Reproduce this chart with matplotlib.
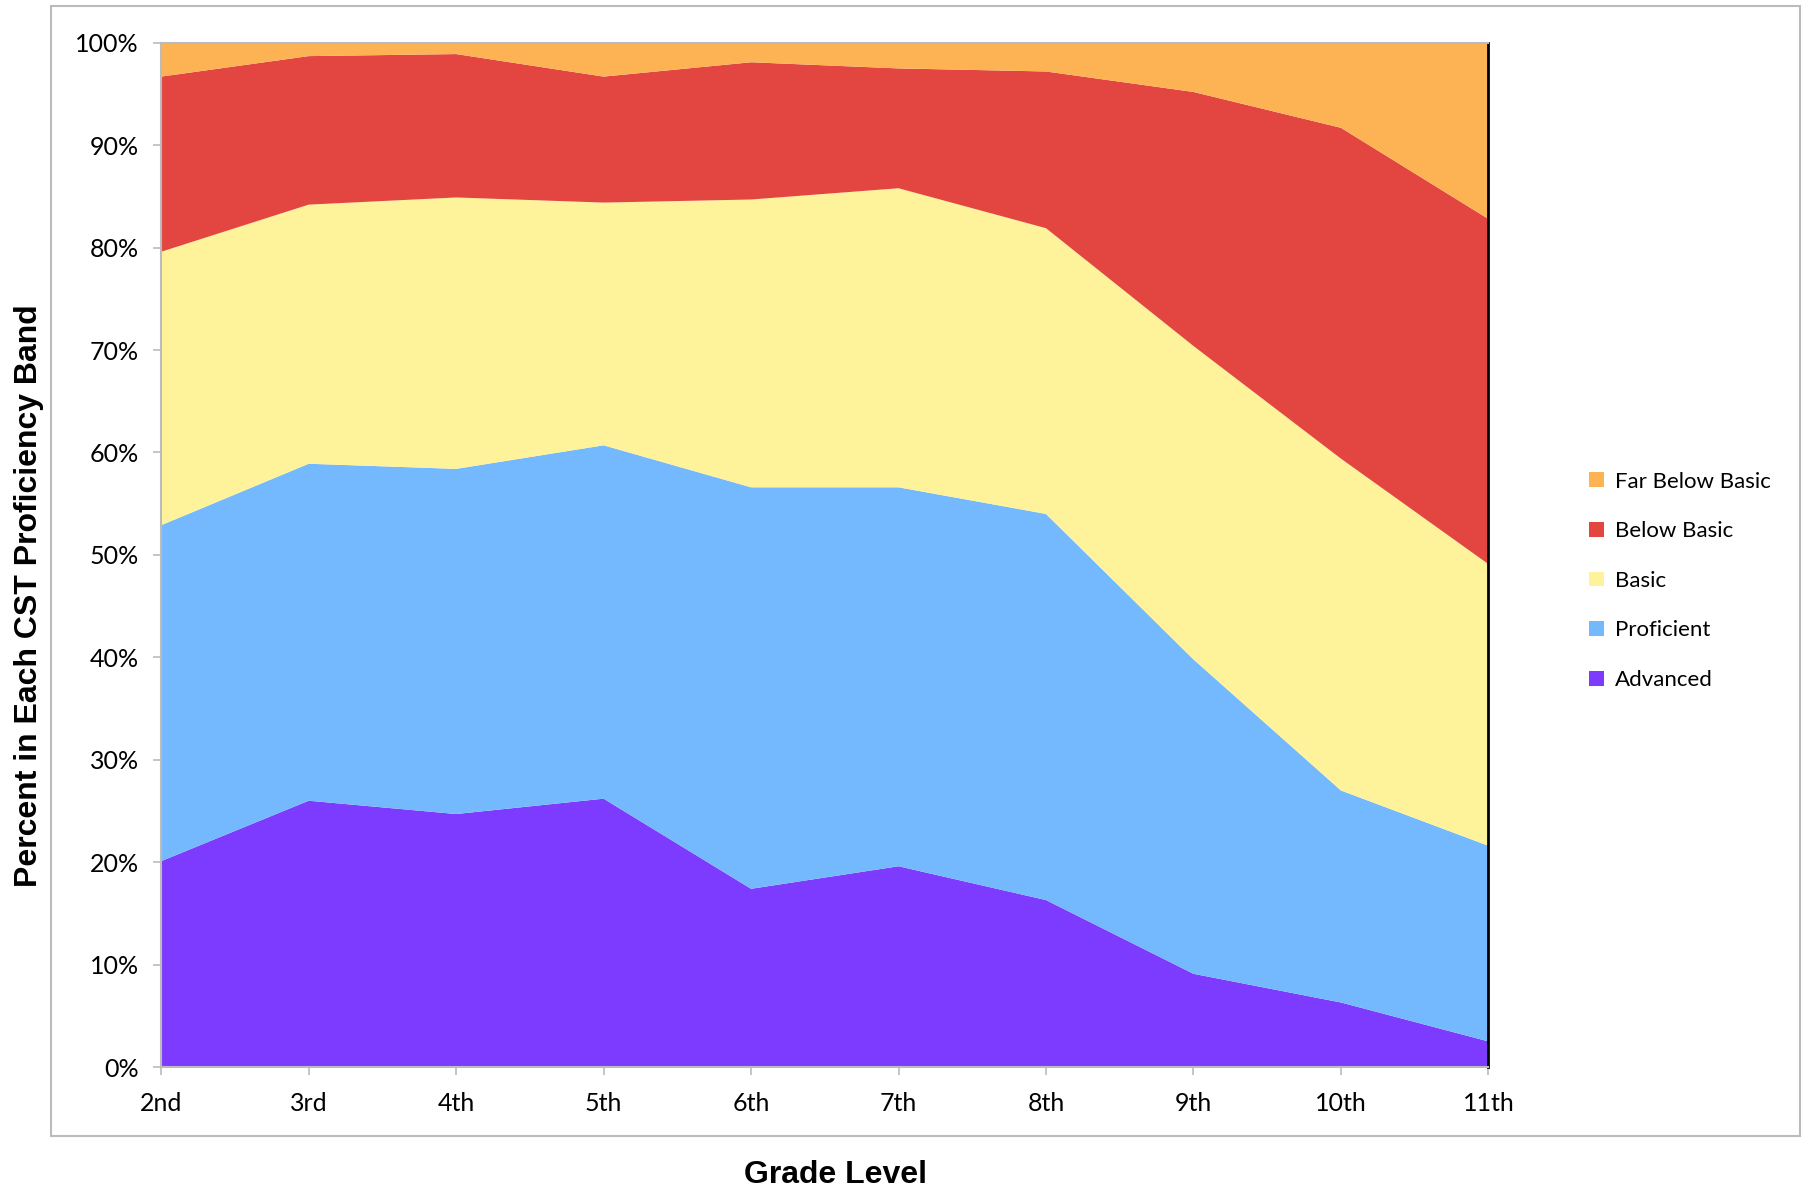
import matplotlib
matplotlib.use("Agg")
import matplotlib.pyplot as plt
from matplotlib.patches import Rectangle, Patch
from matplotlib.ticker import FuncFormatter, MultipleLocator
import numpy as np

grades = ["2nd", "3rd", "4th", "5th", "6th", "7th", "8th", "9th", "10th", "11th"]
advanced = [20.1, 26.0, 24.7, 26.2, 17.4, 19.6, 16.3, 9.1, 6.3, 2.5]
proficient = [32.8, 32.9, 33.7, 34.5, 39.2, 37.0, 37.7, 30.7, 20.7, 19.1]
basic = [26.7, 25.3, 26.5, 23.7, 28.1, 29.2, 27.9, 30.6, 32.4, 27.5]
below_basic = [17.1, 14.5, 14.0, 12.3, 13.4, 11.7, 15.3, 24.8, 32.3, 33.7]
far_below_basic = [3.3, 1.3, 1.1, 3.3, 1.9, 2.5, 2.8, 4.8, 8.3, 17.2]

series_names = ["Advanced", "Proficient", "Basic", "Below Basic", "Far Below Basic"]
colors = ["#7D3BFF", "#74B9FD", "#FEF39A", "#E34540", "#FDB353"]

tick_font = "Lato"
label_font = "Liberation Sans"

fig = plt.figure(figsize=(18.05, 11.89), dpi=100)
ax = fig.add_axes([0.0893, 0.1026, 0.7353, 0.8614])

x = np.arange(len(grades))
ax.stackplot(x, advanced, proficient, basic, below_basic, far_below_basic,
             colors=colors, labels=series_names, linewidth=0)

ax.set_xlim(0, len(grades) - 1)
ax.set_ylim(0, 100)
ax.set_xticks(x)
ax.set_xticklabels(grades, fontsize=18, family=tick_font)
ax.yaxis.set_major_locator(MultipleLocator(10))
ax.yaxis.set_major_formatter(FuncFormatter(lambda v, p: f"{int(round(v))}%"))
for t in ax.get_yticklabels():
    t.set_fontfamily(tick_font)
    t.set_fontsize(18)
ax.tick_params(axis="both", colors="#BBBBBB", labelcolor="black", length=6, width=1.2)
ax.tick_params(axis="x", pad=12)
ax.tick_params(axis="y", pad=10)

for s in ["left", "bottom", "top"]:
    ax.spines[s].set_color("#BBBBBB")
    ax.spines[s].set_linewidth(1.5)
ax.spines["right"].set_color("black")
ax.spines["right"].set_linewidth(2)

ax.set_ylabel("Percent in Each CST Proficiency Band", fontsize=23, fontweight="bold",
              family=label_font)
ax.yaxis.set_label_coords(-0.088, 0.46)
fig.text(0.463, 0.012, "Grade Level", fontsize=23, fontweight="bold", family=label_font,
         ha="center", va="center")

# outer border
fig.add_artist(Rectangle((0.028, 0.0445), 0.969, 0.9505, transform=fig.transFigure,
                         fill=False, edgecolor="#BBBBBB", linewidth=1.5))

handles = [Patch(facecolor=c, edgecolor="none") for c in colors[::-1]]
leg = fig.legend(handles, series_names[::-1], loc="center left",
                 bbox_to_anchor=(0.8695, 0.5115), frameon=False,
                 prop={"family": tick_font, "size": 16},
                 handlelength=0.65, handleheight=0.65, handletextpad=0.5,
                 labelspacing=1.33)

fig.savefig("out.png", dpi=100)
